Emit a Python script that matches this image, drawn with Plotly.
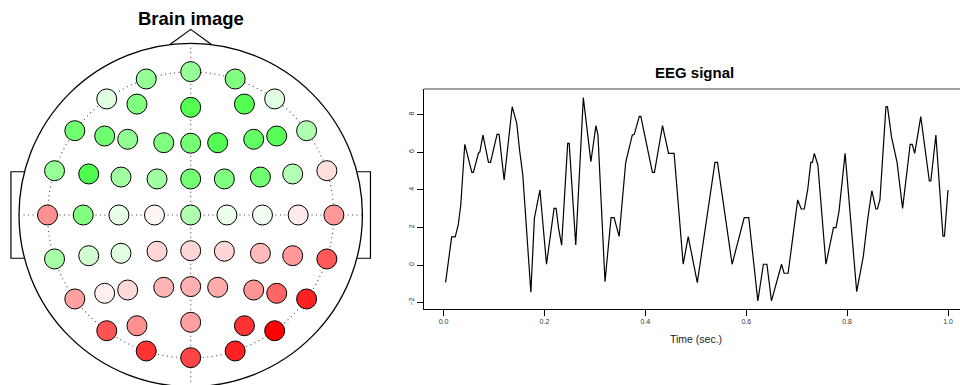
import plotly.graph_objects as go

# ---------------- EEG trace (time in seconds, amplitude) ----------------
time_s = [0.004, 0.013, 0.016, 0.023, 0.029, 0.034, 0.039, 0.042, 0.056, 0.059,
          0.069, 0.072, 0.078, 0.089, 0.093, 0.106, 0.110, 0.120, 0.136, 0.145,
          0.151, 0.157, 0.173, 0.180, 0.191, 0.204, 0.219, 0.223, 0.228, 0.234,
          0.246, 0.249, 0.262, 0.277, 0.292, 0.302, 0.306, 0.320, 0.332, 0.338,
          0.348, 0.361, 0.374, 0.378, 0.388, 0.391, 0.414, 0.418, 0.434, 0.446,
          0.457, 0.475, 0.485, 0.503, 0.538, 0.543, 0.572, 0.596, 0.605, 0.623,
          0.634, 0.641, 0.650, 0.670, 0.675, 0.683, 0.702, 0.709, 0.715, 0.722,
          0.728, 0.731, 0.735, 0.742, 0.758, 0.773, 0.778, 0.784, 0.796, 0.819,
          0.832, 0.841, 0.849, 0.857, 0.860, 0.865, 0.877, 0.880, 0.888, 0.899,
          0.910, 0.925, 0.929, 0.934, 0.946, 0.963, 0.966, 0.976, 0.990, 0.993,
          1.000]
eeg_value = [-0.92, 1.06, 1.50, 1.50, 2.13, 3.19, 5.40, 6.42, 4.93, 4.93,
             5.94, 6.03, 6.91, 5.46, 5.46, 6.95, 6.95, 4.52, 8.42, 7.54,
             6.03, 4.79, -1.45, 2.48, 3.99, 0.04, 3.01, 3.01, 1.95, 1.06,
             6.47, 6.47, 1.06, 8.90, 5.50, 7.41, 6.91, -0.89, 2.52, 2.52,
             1.52, 5.45, 6.91, 6.95, 7.91, 7.91, 4.93, 4.93, 7.41, 5.94,
             5.94, 0.04, 1.51, -0.94, 5.46, 5.46, 0.04, 2.52, 2.52, -1.91,
             0.04, 0.04, -1.91, 0.04, -0.44, -0.44, 3.46, 2.98, 2.98, 4.04,
             5.46, 5.46, 5.94, 5.32, 0.04, 1.99, 1.99, 2.87, 5.94, -1.42,
             0.44, 2.48, 3.95, 2.98, 2.98, 3.46, 8.42, 8.42, 6.82, 5.46,
             3.01, 6.42, 6.42, 5.94, 7.89, 4.47, 4.47, 6.91, 1.54, 1.54,
             3.99]
time_ticks = [0.0, 0.2, 0.4, 0.6, 0.8, 1.0]
time_tick_text = ["0.0", "0.2", "0.4", "0.6", "0.8", "1.0"]
amp_ticks = [-2, 0, 2, 4, 6, 8]

# ---------------- Scalp map: electrode montage (head radius = 1) ----------------
elec_x = [-0.259, 0.0, 0.259,
          -0.489, -0.313, 0.0, 0.313, 0.489,
          -0.675, -0.501, -0.367, -0.157, 0.0, 0.157, 0.367, 0.501, 0.675,
          -0.793, -0.594, -0.406, -0.196, 0.0, 0.196, 0.406, 0.594, 0.793,
          -0.834, -0.626, -0.418, -0.211, 0.0, 0.211, 0.418, 0.626, 0.834,
          -0.793, -0.594, -0.406, -0.196, 0.0, 0.196, 0.406, 0.594, 0.793,
          -0.675, -0.501, -0.367, -0.157, 0.0, 0.157, 0.367, 0.501, 0.675,
          -0.489, -0.313, 0.0, 0.313, 0.489,
          -0.259, 0.0, 0.259]
elec_y = [0.792, 0.835, 0.792,
          0.676, 0.646, 0.627, 0.646, 0.676,
          0.491, 0.460, 0.441, 0.421, 0.418, 0.421, 0.441, 0.460, 0.491,
          0.258, 0.239, 0.221, 0.210, 0.210, 0.210, 0.221, 0.239, 0.258,
          0.0, 0.0, 0.0, 0.0, 0.0, 0.0, 0.0, 0.0, 0.0,
          -0.256, -0.237, -0.223, -0.211, -0.208, -0.211, -0.223, -0.237, -0.256,
          -0.489, -0.456, -0.437, -0.421, -0.417, -0.421, -0.437, -0.456, -0.489,
          -0.674, -0.645, -0.625, -0.645, -0.674,
          -0.792, -0.831, -0.792]
# activity per electrode: negative -> green, positive -> red
elec_value = [-0.41, -0.41, -0.50,
              -0.12, -0.50, -0.67, -0.67, -0.12,
              -0.56, -0.56, -0.43, -0.50, -0.54, -0.67, -0.62, -0.65, -0.31,
              -0.41, -0.69, -0.37, -0.37, -0.54, -0.50, -0.56, -0.29, 0.13,
              0.43, -0.50, -0.10, 0.04, -0.31, -0.08, -0.06, 0.08, 0.40,
              -0.35, -0.18, -0.12, 0.16, 0.16, 0.16, 0.27, 0.40, 0.65,
              0.37, 0.06, 0.15, 0.29, 0.31, 0.33, 0.42, 0.60, 0.87,
              0.67, 0.43, 0.37, 0.80, 1.00,
              0.80, 0.73, 0.87]

W, H = 960, 385
# scalp panel geometry (pixels)
CX, CY, R = 190.7, 215.0, 171.7
SCALP_W = 380

fig = go.Figure()

fig.add_trace(go.Scatter(
    x=time_s, y=eeg_value, mode="lines",
    line=dict(color="black", width=1.2),
    xaxis="x", yaxis="y", hoverinfo="skip", showlegend=False))

fig.add_trace(go.Scatter(
    x=elec_x, y=elec_y, mode="markers",
    marker=dict(size=20, color=elec_value, cmin=-1, cmax=1,
                colorscale=[[0, "#00ff00"], [0.5, "#ffffff"], [1, "#ff0000"]],
                line=dict(color="black", width=1), showscale=False),
    xaxis="x2", yaxis="y2", hoverinfo="skip", showlegend=False))

shapes = []
dot = dict(color="#444444", width=1.1, dash="1px,3.5px")
# head outline, nose, ears
shapes.append(dict(type="circle", xref="x2", yref="y2", x0=-1, y0=-1, x1=1, y1=1,
                   line=dict(color="black", width=1.3), layer="below"))
shapes.append(dict(type="circle", xref="x2", yref="y2", x0=-0.833, y0=-0.833, x1=0.833, y1=0.833,
                   line=dot, layer="below"))
shapes.append(dict(type="line", xref="x2", yref="y2", x0=-1, y0=0, x1=1, y1=0,
                   line=dot, layer="below"))
shapes.append(dict(type="line", xref="x2", yref="y2", x0=0, y0=1, x1=0, y1=-1.05,
                   line=dot, layer="below"))
shapes.append(dict(type="path", xref="x2", yref="y2",
                   path="M -0.121 0.9926 L 0 1.081 L 0.121 0.9926",
                   line=dict(color="black", width=1.2), layer="below"))
shapes.append(dict(type="path", xref="x2", yref="y2",
                   path="M -0.968 0.252 L -1.047 0.252 L -1.047 -0.252 L -0.968 -0.252",
                   line=dict(color="black", width=1.2), layer="below"))
shapes.append(dict(type="path", xref="x2", yref="y2",
                   path="M 0.968 0.252 L 1.047 0.252 L 1.047 -0.252 L 0.968 -0.252",
                   line=dict(color="black", width=1.2), layer="below"))
# top frame line of the signal panel
shapes.append(dict(type="line", xref="x domain", yref="y domain", x0=0, y0=1, x1=1, y1=1,
                   line=dict(color="#444444", width=1)))

annotations = [
    dict(text="<b>Brain image</b>", x=CX / W, y=1 - 18 / H, xref="paper", yref="paper",
         showarrow=False, xanchor="center", yanchor="middle",
         font=dict(family="Liberation Sans", size=18.5, color="black")),
    dict(text="<b>EEG signal</b>", x=694 / W, y=1 - 73 / H, xref="paper", yref="paper",
         showarrow=False, xanchor="center", yanchor="middle",
         font=dict(family="Liberation Sans", size=15, color="black")),
    dict(text="Time (sec.)", x=696 / W, y=1 - 339 / H, xref="paper", yref="paper",
         showarrow=False, xanchor="center", yanchor="middle",
         font=dict(family="Liberation Sans", size=10.5, color="#222222")),
]

# signal axes: left 424 px -> right 960 px, top 89 px -> bottom 309 px
x_left_px, x_right_px = 424, 960
y_top_px, y_bot_px = 89, 309
t0_px, px_per_s = 443.6, 504.4
v0_px, px_per_unit = 265.0, 18.8

fig.update_layout(
    width=W, height=H, margin=dict(l=0, r=0, t=0, b=0),
    paper_bgcolor="white", plot_bgcolor="white",
    font=dict(family="Liberation Sans"),
    shapes=shapes, annotations=annotations,
    xaxis=dict(domain=[x_left_px / W, x_right_px / W],
               range=[(x_left_px - t0_px) / px_per_s, (x_right_px - t0_px) / px_per_s],
               tickvals=time_ticks, ticktext=time_tick_text,
               showline=True, linecolor="black", linewidth=1, mirror=False,
               ticks="outside", ticklen=6, tickwidth=1, tickcolor="black",
               tickfont=dict(size=7, color="#333333"),
               showgrid=False, zeroline=False, anchor="y"),
    yaxis=dict(domain=[(H - y_bot_px) / H, (H - y_top_px) / H],
               range=[(v0_px - y_bot_px) / px_per_unit, (v0_px - y_top_px) / px_per_unit],
               tickvals=amp_ticks,
               showline=True, linecolor="black", linewidth=1, mirror=False,
               ticks="outside", ticklen=6, tickwidth=1, tickcolor="black",
               tickangle=-90, tickfont=dict(size=7, color="#333333"),
               showgrid=False, zeroline=False, anchor="x"),
    xaxis2=dict(domain=[0, SCALP_W / W], range=[(0 - CX) / R, (SCALP_W - CX) / R],
                visible=False, anchor="y2"),
    yaxis2=dict(domain=[0, 1], range=[(CY - H) / R, CY / R],
                visible=False, anchor="x2"),
)

fig.write_html("out.html")
